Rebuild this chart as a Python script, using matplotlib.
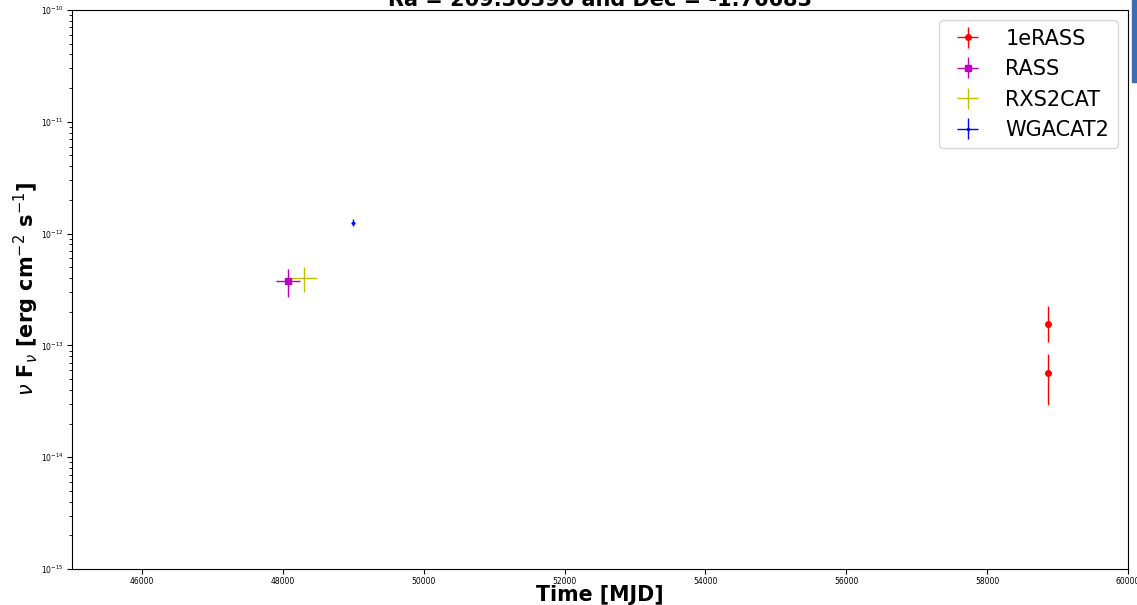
import matplotlib
matplotlib.use("Agg")
import matplotlib.pyplot as plt
from matplotlib.patches import Rectangle

# light curve points per catalogue: MJD, MJD error, flux, flux errors (lower, upper)
erass_mjd = [58870, 58870]
erass_mjd_err = [4, 4]
erass_flux = [1.56e-13, 5.7e-14]
erass_err_lo = [0.49e-13, 2.75e-14]
erass_err_hi = [0.71e-13, 2.6e-14]

rass_mjd = [48074]
rass_mjd_err = [177]
rass_flux = [3.77e-13]
rass_flux_err = [1.05e-13]

rxs2_mjd = [48301]
rxs2_mjd_err = [190]
rxs2_flux = [4.0e-13]
rxs2_flux_err = [1.0e-13]

wga_mjd = [48997]
wga_mjd_err = [28]
wga_flux = [1.25e-12]
wga_flux_err = [0.09e-12]

fig = plt.figure(figsize=(11.37, 6.05), dpi=100)
ax = fig.add_axes([71.5 / 1137, 1 - 569 / 605, (1128 - 71.5) / 1137, (569 - 10) / 605])

ax.errorbar(erass_mjd, erass_flux, xerr=erass_mjd_err, yerr=[erass_err_lo, erass_err_hi],
            fmt="o", color="r", markersize=4, elinewidth=1, label="1eRASS")
ax.errorbar(rass_mjd, rass_flux, xerr=rass_mjd_err, yerr=rass_flux_err,
            fmt="s", color="m", markersize=4, elinewidth=1, label="RASS")
ax.errorbar(rxs2_mjd, rxs2_flux, xerr=rxs2_mjd_err, yerr=rxs2_flux_err,
            fmt=",", color="y", elinewidth=1, label="RXS2CAT")
ax.errorbar(wga_mjd, wga_flux, xerr=wga_mjd_err, yerr=wga_flux_err,
            fmt=".", color="b", markersize=3, elinewidth=1, label="WGACAT2")

ax.set_yscale("log")
ax.set_xlim(45000, 60000)
ax.set_ylim(1e-15, 1e-10)
ax.set_xticks(range(46000, 60001, 2000))
ax.tick_params(axis="both", which="major", labelsize=5.5, pad=2)

ax.set_xlabel("Time [MJD]", fontsize=14.8, fontweight="bold")
ax.xaxis.set_label_coords(0.5, -0.028)
ax.set_ylabel(r"$\nu$ F$_\nu$ [erg cm$^{-2}$ s$^{-1}$]", fontsize=15, fontweight="bold")
ax.yaxis.set_label_coords(-0.029, 0.5)
ax.set_title("Ra = 209.30396 and Dec = -1.76683", fontsize=15, fontweight="bold", pad=2)
ax.legend(loc="upper right", fontsize=15)

# blue strip on the right edge
fig.patches.append(Rectangle((1132 / 1137, 1 - 82 / 605), 5 / 1137, 82 / 605,
                             transform=fig.transFigure, color="#3d6bb0"))

fig.savefig("out.png", dpi=100)
